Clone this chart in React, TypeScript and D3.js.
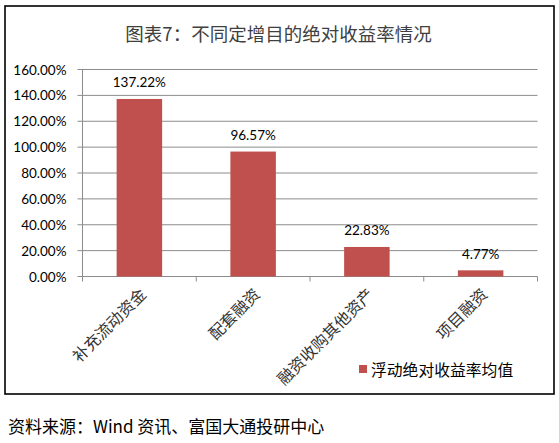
import React from "react";
import * as d3 from "d3";

const categories = ["补充流动资金", "配套融资", "融资收购其他资产", "项目融资"];
const values = [1.3722, 0.9657, 0.2283, 0.0477];
const valueLabels = ["137.22%", "96.57%", "22.83%", "4.77%"];
const yTicks = [0, 0.2, 0.4, 0.6, 0.8, 1.0, 1.2, 1.4, 1.6];
const title = "图表7：不同定增目的绝对收益率情况";
const legendLabel = "浮动绝对收益率均值";
const source = "资料来源：Wind 资讯、富国大通投研中心";

const W = 559;
const H = 443;
const plotLeft = 82.5;
const plotRight = 537.5;
const plotTop = 69.5;
const plotBottom = 276.5;
const BAR = "#C0504D";
const GRID = "#8C8C8C";
const CJK = "'Noto Sans CJK SC', 'Noto Sans', sans-serif";
const NUM = "Lato, 'Noto Sans', sans-serif";

export default function App() {
  const x = d3
    .scaleBand<string>()
    .domain(categories)
    .range([plotLeft, plotRight])
    .paddingInner(0.6)
    .paddingOuter(0.3);
  const y = d3.scaleLinear().domain([0, 1.6]).range([plotBottom, plotTop]);
  const fmt = d3.format(".2%");
  const step = (plotRight - plotLeft) / categories.length;
  const boundaries = d3.range(categories.length + 1).map((i) => plotLeft + i * step);

  return (
    <svg
      width={W}
      height={H}
      viewBox={`0 0 ${W} ${H}`}
      style={{ position: "absolute", left: 0, top: 0, background: "#fff" }}
    >
      <rect x={0} y={0} width={W} height={H} fill="#fff" />
      <rect x={5} y={6} width={549} height={388} fill="#fff" stroke="#000" strokeWidth={1.6} />
      <text
        x={278.5}
        y={33}
        textAnchor="middle"
        dominantBaseline="central"
        fontFamily={CJK}
        fontSize={18.5}
        fill="#404040"
      >
        {title}
      </text>

      {yTicks.map((t) => (
        <g key={t}>
          <line x1={plotLeft - 5} x2={plotRight} y1={y(t)} y2={y(t)} stroke={GRID} strokeWidth={1} />
          <text
            x={66.5}
            y={y(t)}
            textAnchor="end"
            dominantBaseline="central"
            fontFamily={NUM}
            fontSize={13.5}
            fill="#000"
          >
            {fmt(t)}
          </text>
        </g>
      ))}
      <line x1={plotLeft} x2={plotLeft} y1={plotTop} y2={plotBottom} stroke={GRID} strokeWidth={1} />
      {boundaries.map((b, i) => (
        <line key={i} x1={b} x2={b} y1={plotBottom} y2={plotBottom + 5} stroke={GRID} strokeWidth={1} />
      ))}

      {categories.map((c, i) => (
        <g key={c}>
          <rect
            x={x(c)!}
            y={y(values[i])}
            width={x.bandwidth()}
            height={plotBottom - y(values[i])}
            fill={BAR}
          />
          <text
            x={x(c)! + x.bandwidth() / 2}
            y={y(values[i]) - 11.5}
            textAnchor="middle"
            fontFamily={NUM}
            fontSize={13.5}
            fill="#000"
          >
            {valueLabels[i]}
          </text>
          <text
            transform={`translate(${x(c)! + x.bandwidth() / 2 + 3},${plotBottom + 14}) rotate(-45)`}
            textAnchor="end"
            dominantBaseline="central"
            fontFamily={CJK}
            fontSize={16}
            fill="#333"
          >
            {c}
          </text>
        </g>
      ))}

      <rect x={359} y={365} width={8} height={8} fill={BAR} />
      <text x={371} y={369} dominantBaseline="central" fontFamily={CJK} fontSize={15.8} fill="#000">
        {legendLabel}
      </text>

      <text x={8} y={425} dominantBaseline="central" fontFamily={CJK} fontSize={17} fill="#000">
        {source}
      </text>
    </svg>
  );
}
